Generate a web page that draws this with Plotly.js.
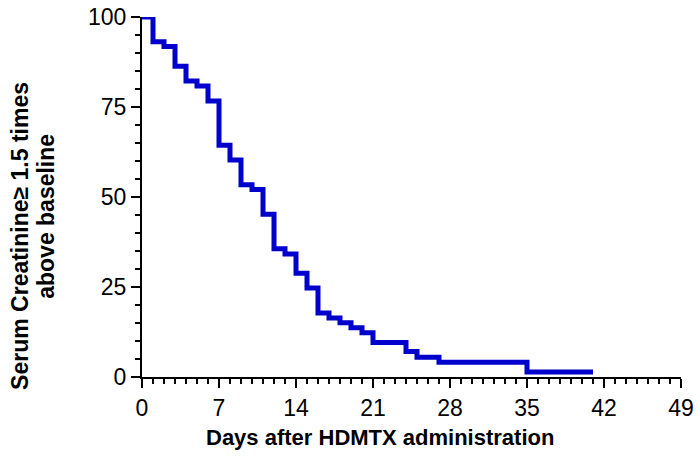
<!DOCTYPE html>
<html>
<head>
<meta charset="utf-8">
<script src="https://cdn.plot.ly/plotly-3.0.1.min.js"></script>
<style>
  html, body { margin: 0; padding: 0; background: #fff; }
  #chart { width: 700px; height: 458px; }
</style>
</head>
<body>
<div id="chart"></div>
<script>
// Step points (day of event, percent still above threshold)
const days = [0, 1, 2, 3, 4, 5, 6, 7, 8, 9, 10, 11, 12, 13, 14, 15, 16, 17, 18, 19, 20, 21, 24, 25, 27, 35, 41];
const pct = [100, 93.1, 91.8, 86.3, 82.2, 80.8, 76.7, 64.4, 60.3, 53.4, 52.1, 45.2, 35.6, 34.2, 28.8, 24.7, 17.8, 16.4, 15.1, 13.7, 12.3, 9.6, 7.1, 5.5, 4.1, 1.4, 1.4];

const xTicks = [0, 7, 14, 21, 28, 35, 42, 49];
const yTicks = [0, 25, 50, 75, 100];
const xTitleText = "Days after HDMTX administration";
const yTitleLines = ["Serum Creatinine≥ 1.5 times", "above baseline"];

const font = "Liberation Sans, Arial, sans-serif";

const trace = {
  x: days,
  y: pct,
  type: "scatter",
  mode: "lines",
  line: { color: "#0000cc", width: 5, shape: "hv" },
  cliponaxis: false,
  hoverinfo: "skip",
};

// titles drawn as annotations so they sit where they do in the figure
const titleBase = {
  xref: "paper",
  yref: "paper",
  xanchor: "center",
  yanchor: "middle",
  showarrow: false,
};
const titles = [
  { text: "<b>" + yTitleLines[0] + "</b>", x: -0.2263, y: 0.392, textangle: -90, font: { size: 23 } },
  { text: "<b>" + yTitleLines[1] + "</b>", x: -0.1781, y: 0.445, textangle: -90, font: { size: 23 } },
  { text: "<b>" + xTitleText + "</b>", x: 0.4416, y: -0.1667, font: { size: 22 } },
].map(a => ({ ...titleBase, ...a, font: { family: font, color: "#000", ...a.font } }));

const layout = {
  width: 700,
  height: 458,
  margin: { l: 142, r: 19, t: 17, b: 81 },
  paper_bgcolor: "#fff",
  plot_bgcolor: "#fff",
  showlegend: false,
  font: { family: font, color: "#000", size: 23 },
  xaxis: {
    range: [0, 49],
    tickvals: xTicks,
    ticks: "outside",
    ticklen: 9,
    tickwidth: 2,
    tickcolor: "#000",
    showline: true,
    linecolor: "#000",
    linewidth: 2,
    showgrid: false,
    zeroline: false,
    minor: { dtick: 1, ticks: "outside", ticklen: 5, tickwidth: 1.5, tickcolor: "#000", showgrid: false },
    tickfont: { size: 23 },
  },
  yaxis: {
    range: [0, 100],
    tickvals: yTicks,
    ticks: "outside",
    ticklen: 9,
    tickwidth: 2,
    tickcolor: "#000",
    showline: true,
    linecolor: "#000",
    linewidth: 2,
    showgrid: false,
    zeroline: false,
    minor: { dtick: 5, ticks: "outside", ticklen: 5, tickwidth: 1.5, tickcolor: "#000", showgrid: false },
    tickfont: { size: 23 },
  },
  annotations: titles,
};

Plotly.newPlot("chart", [trace], layout, { displayModeBar: false, staticPlot: true });
</script>
</body>
</html>
